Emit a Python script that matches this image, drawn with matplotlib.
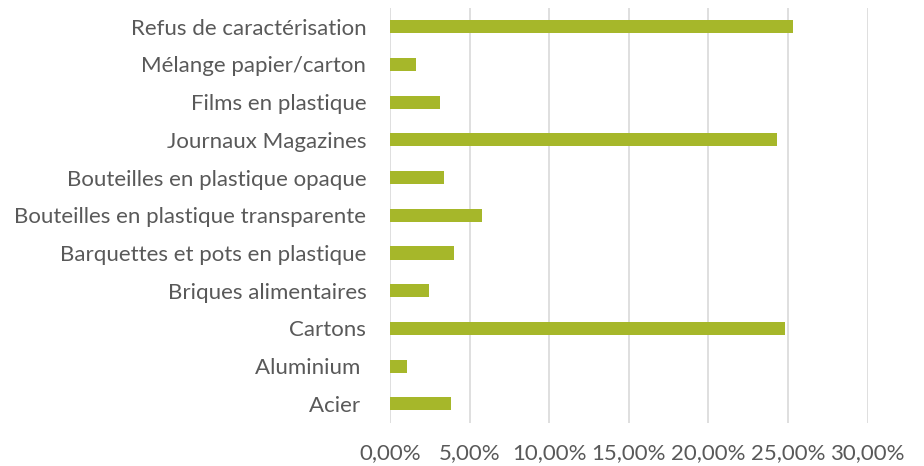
import matplotlib
matplotlib.use("Agg")
import matplotlib.pyplot as plt
from matplotlib.ticker import FuncFormatter

categories = [
    "Refus de caractérisation",
    "Mélange papier/carton",
    "Films en plastique",
    "Journaux Magazines",
    "Bouteilles en plastique opaque",
    "Bouteilles en plastique transparente",
    "Barquettes et pots en plastique",
    "Briques alimentaires",
    "Cartons",
    "Aluminium ",
    "Acier ",
]
values = [25.33, 1.65, 3.14, 24.33, 3.39, 5.78, 4.04, 2.45, 24.81, 1.09, 3.83]
xticks = [0, 5, 10, 15, 20, 25, 30]

plt.rcParams["font.family"] = ["Lato", "DejaVu Sans"]
text_color = "#595959"
bar_color = "#a6b72a"

fig = plt.figure(figsize=(9.24, 4.66), dpi=100)
ax = fig.add_axes([0.422, 0.093, 0.517, 0.89])

ypos = list(range(len(categories)))[::-1]
ax.barh(ypos, values, height=0.35, color=bar_color, zorder=3)

ax.set_xlim(0, 30)
ax.set_ylim(-0.5, len(categories) - 0.5)
ax.set_xticks(xticks)
ax.xaxis.set_major_formatter(FuncFormatter(lambda v, p: f"{v:.2f}%".replace(".", ",")))
ax.set_yticks(ypos)
ax.set_yticklabels(categories)

ax.grid(axis="x", color="#d9d9d9", linewidth=1.2, zorder=0)
for s in ax.spines.values():
    s.set_visible(False)
ax.tick_params(axis="both", length=0, labelsize=16, colors=text_color)
ax.tick_params(axis="y", pad=17)
ax.tick_params(axis="x", pad=15)

fig.savefig("out.png", dpi=100)
